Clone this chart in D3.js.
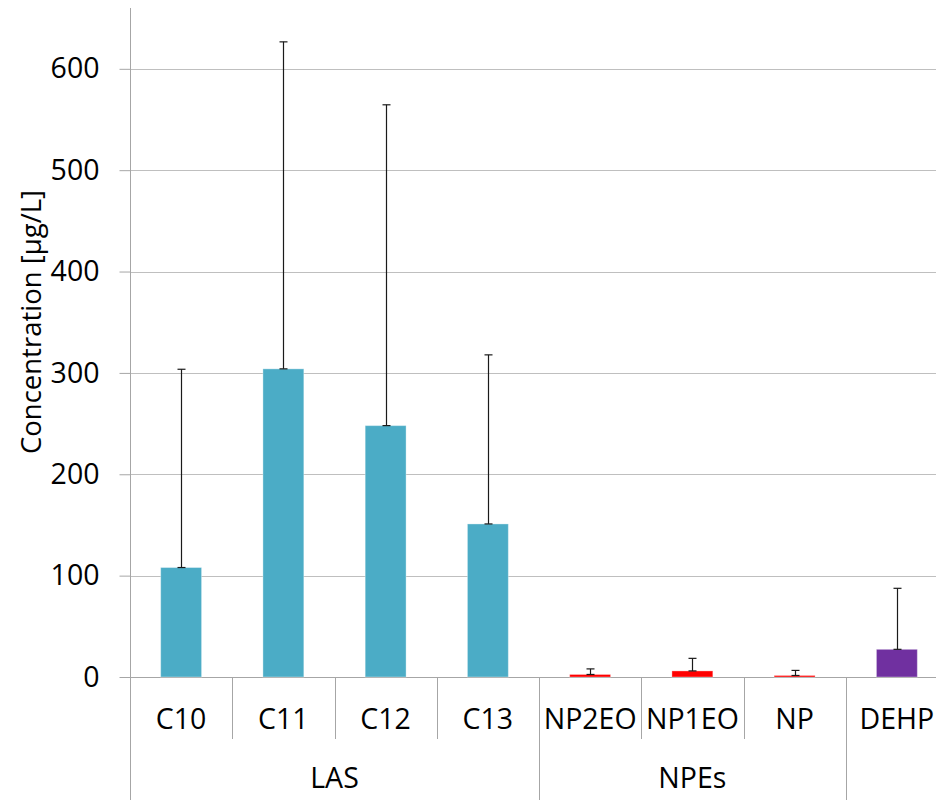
<!DOCTYPE html>
<html>
<head>
<meta charset="utf-8">
<script src="https://cdn.jsdelivr.net/npm/d3@7"></script>
<style>
  html, body { margin: 0; padding: 0; background: #fff; }
  svg { display: block; font-family: "Open Sans", "Liberation Sans", sans-serif; }
</style>
</head>
<body>
<svg id="chart" width="936" height="800"></svg>
<script>
// Mean concentrations (µg/L) with upper error bars, grouped by compound family
const categories = ["C10", "C11", "C12", "C13", "NP2EO", "NP1EO", "NP", "DEHP"];
const groups = ["LAS", "LAS", "LAS", "LAS", "NPEs", "NPEs", "NPEs", ""];
const values = [108, 304, 248, 151, 2.5, 6, 1.5, 27.3];
const errorTops = [303.6, 626.6, 564.5, 317.8, 8, 18.4, 6.5, 87.5];
const barColors = ["#4BACC6", "#4BACC6", "#4BACC6", "#4BACC6", "#FF0000", "#FF0000", "#FF0000", "#7030A0"];
const yTicks = [0, 100, 200, 300, 400, 500, 600];
const yTitle = "Concentration [µg/L]";

const svg = d3.select("#chart");
const plotLeft = 130, plotRight = 948, plotTop = 8, baseY = 677, plotBottom = 800;
const labelSize = 28.5;

const x = d3.scaleBand().domain(categories).range([plotLeft, plotRight]).paddingInner(0).paddingOuter(0);
const y = d3.scaleLinear().domain([0, 660]).range([baseY, plotTop]);

const gridColor = "#BFBFBF";
const axisColor = "#A6A6A6";

// Horizontal gridlines
svg.append("g")
  .selectAll("line")
  .data(yTicks.filter(d => d > 0))
  .join("line")
  .attr("x1", plotLeft).attr("x2", 936)
  .attr("y1", d => Math.round(y(d)) + 0.5).attr("y2", d => Math.round(y(d)) + 0.5)
  .attr("stroke", gridColor).attr("stroke-width", 1);

// Y axis
const yAxis = svg.append("g")
  .attr("transform", `translate(${plotLeft + 0.5},0)`)
  .call(d3.axisLeft(y).tickValues(yTicks).tickSize(11).tickPadding(20));
yAxis.select(".domain").remove();
yAxis.selectAll(".tick line").attr("stroke", axisColor);
yAxis.selectAll(".tick text")
  .attr("font-size", labelSize).attr("fill", "#000")
  .attr("font-family", "'Open Sans', sans-serif");

// Vertical axis line running down through the category area
svg.append("line")
  .attr("x1", plotLeft + 0.5).attr("x2", plotLeft + 0.5)
  .attr("y1", plotTop).attr("y2", plotBottom)
  .attr("stroke", axisColor);

// Baseline
svg.append("line")
  .attr("x1", plotLeft).attr("x2", 936)
  .attr("y1", baseY + 0.5).attr("y2", baseY + 0.5)
  .attr("stroke", axisColor);

// Bars
svg.append("g")
  .selectAll("rect")
  .data(categories)
  .join("rect")
  .attr("x", d => x(d) + x.bandwidth() * 0.3)
  .attr("width", x.bandwidth() * 0.4)
  .attr("y", (d, i) => y(values[i]))
  .attr("height", (d, i) => y(0) - y(values[i]))
  .attr("fill", (d, i) => barColors[i])
  .attr("stroke", "rgba(255,255,255,0.35)")
  .attr("stroke-width", 1);

// Upper error bars
const eb = svg.append("g").attr("stroke", "#1a1a1a").attr("stroke-width", 1.2);
categories.forEach((c, i) => {
  const cx = Math.round(x(c) + x.bandwidth() / 2) + 0.5;
  eb.append("line").attr("x1", cx).attr("x2", cx)
    .attr("y1", y(values[i])).attr("y2", y(errorTops[i]));
  eb.append("line").attr("x1", cx - 4).attr("x2", cx + 4)
    .attr("y1", y(errorTops[i])).attr("y2", y(errorTops[i]));
  eb.append("line").attr("x1", cx - 4).attr("x2", cx + 4)
    .attr("y1", y(values[i])).attr("y2", y(values[i]));
});

// Category separators: short ones inside a group, full ones between groups
const sepG = svg.append("g");
for (let i = 1; i < categories.length; i++) {
  const sx = Math.round(x(categories[i])) + 0.5;
  const full = groups[i] !== groups[i - 1];
  sepG.append("line")
    .attr("x1", sx).attr("x2", sx)
    .attr("y1", baseY).attr("y2", full ? plotBottom : 739)
    .attr("stroke", axisColor);
}

// Category labels
svg.append("g")
  .selectAll("text")
  .data(categories)
  .join("text")
  .attr("x", d => x(d) + x.bandwidth() / 2)
  .attr("y", 721)
  .attr("text-anchor", "middle")
  .attr("dominant-baseline", "middle")
  .attr("font-size", labelSize)
  .attr("fill", "#000")
  .text(d => d);

// Group labels centred under their categories
const groupNames = Array.from(new Set(groups.filter(g => g)));
svg.append("g")
  .selectAll("text")
  .data(groupNames)
  .join("text")
  .attr("x", g => {
    const members = categories.filter((c, i) => groups[i] === g);
    return (x(members[0]) + x(members[members.length - 1]) + x.bandwidth()) / 2;
  })
  .attr("y", 780)
  .attr("text-anchor", "middle")
  .attr("dominant-baseline", "middle")
  .attr("font-size", labelSize)
  .attr("fill", "#000")
  .text(g => g);

// Y axis title
svg.append("text")
  .attr("transform", "translate(41,322) rotate(-90)")
  .attr("text-anchor", "middle")
  .attr("font-size", 27.5)
  .attr("fill", "#000")
  .text(yTitle);
</script>
</body>
</html>
